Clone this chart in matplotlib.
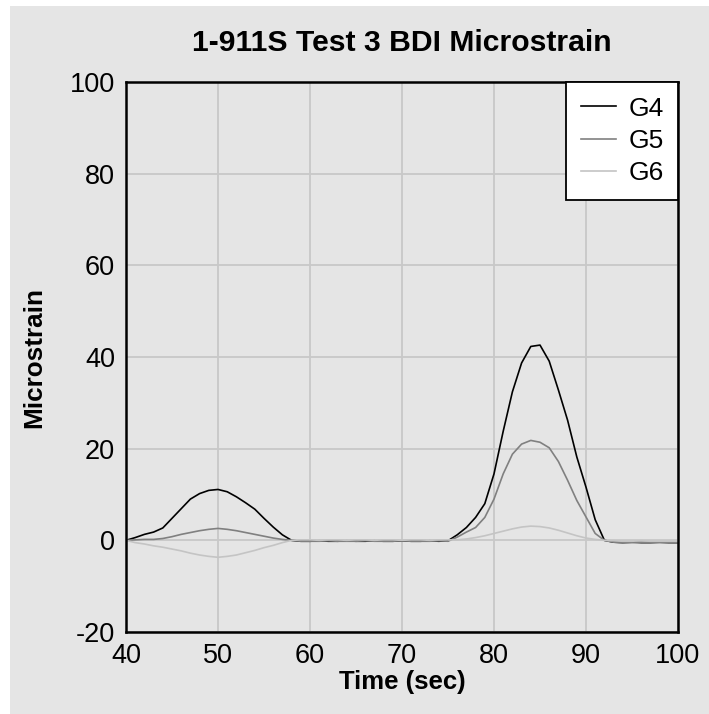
import matplotlib
matplotlib.use("Agg")
import matplotlib.pyplot as plt
from matplotlib.patches import Rectangle

plt.rcParams['font.family'] = ['Liberation Sans', 'DejaVu Sans']
plt.rcParams['axes.unicode_minus'] = False

# time in seconds, one reading per second
time_sec = list(range(40, 101))

g4 = [0.0, 0.6, 1.3, 1.8, 2.7, 4.8, 6.9, 9.0, 10.2, 10.9,
      11.1, 10.6, 9.5, 8.2, 6.8, 4.8, 2.9, 1.2, 0.0, -0.2,
      -0.2, -0.1, -0.2, -0.2, -0.1, -0.2, -0.2, -0.1, -0.2, -0.2,
      -0.1, -0.2, -0.2, -0.1, -0.2, -0.1, 1.2, 2.8, 5.0, 8.0,
      14.5, 23.8, 32.4, 38.7, 42.3, 42.6, 39.1, 32.8, 26.2, 18.2,
      11.6, 4.5, 0.0, -0.4, -0.5, -0.4, -0.5, -0.5, -0.4, -0.5,
      -0.5]

g5 = [0.0, 0.1, 0.2, 0.2, 0.4, 0.8, 1.3, 1.7, 2.1, 2.4,
      2.6, 2.4, 2.1, 1.7, 1.3, 0.9, 0.5, 0.2, 0.0, -0.2,
      -0.2, -0.2, -0.1, -0.2, -0.2, -0.2, -0.1, -0.2, -0.2, -0.2,
      -0.1, -0.2, -0.2, -0.2, -0.1, -0.2, 0.7, 1.8, 2.8, 5.0,
      9.0, 14.5, 18.8, 21.0, 21.8, 21.4, 20.2, 17.2, 13.1, 8.7,
      5.1, 1.5, 0.0, -0.4, -0.5, -0.5, -0.4, -0.5, -0.5, -0.5,
      -0.5]

g6 = [0.0, -0.5, -0.8, -1.2, -1.5, -1.9, -2.3, -2.8, -3.2, -3.5,
      -3.7, -3.5, -3.2, -2.7, -2.2, -1.6, -1.1, -0.5, 0.0, 0.1,
      0.1, 0.0, 0.1, 0.1, 0.0, 0.1, 0.1, 0.0, 0.1, 0.1,
      0.0, 0.1, 0.1, 0.0, 0.1, 0.1, 0.1, 0.3, 0.6, 1.0,
      1.5, 2.0, 2.5, 2.9, 3.1, 3.0, 2.7, 2.2, 1.6, 1.0,
      0.5, 0.2, 0.0, -0.1, -0.2, -0.2, -0.1, -0.2, -0.2, -0.2,
      -0.2]

series = [("G4", g4, "#000000"), ("G5", g5, "#808080"), ("G6", g6, "#c4c4c4")]

x_ticks = [40, 50, 60, 70, 80, 90, 100]
y_ticks = [-20, 0, 20, 40, 60, 80, 100]

bg = "#e5e5e5"

fig = plt.figure(figsize=(7.09, 7.14), dpi=100, facecolor="white")
# grey panel with thin white strip at top and left
panel = Rectangle((10 / 709, 0), 1, 1 - 6 / 714, transform=fig.transFigure,
                  facecolor=bg, edgecolor="none", zorder=-10)
fig.add_artist(panel)

ax = fig.add_axes([126 / 709, 1 - 632 / 714, 552 / 709, 550 / 714])
ax.set_facecolor(bg)

for name, vals, col in series:
    ax.plot(time_sec, vals, color=col, lw=1.2, label=name)

ax.set_xlim(40, 100)
ax.set_ylim(-20, 100)
ax.set_xticks(x_ticks)
ax.set_yticks(y_ticks)
ax.grid(True, color="#c8c8c8", lw=1.3)
ax.set_axisbelow(True)
ax.tick_params(length=0, labelsize=19.5, pad=8)
for s in ax.spines.values():
    s.set_linewidth(1.8)
    s.set_color("black")

ax.set_title("1-911S Test 3 BDI Microstrain", fontsize=21.7, fontweight="bold", pad=22)
ax.set_xlabel("Time (sec)", fontsize=18.5, fontweight="bold", labelpad=1)
ax.set_ylabel("Microstrain", fontsize=18.8, fontweight="bold", labelpad=17)

leg = ax.legend(loc="upper right", bbox_to_anchor=(1, 1), borderaxespad=0,
                fontsize=19, fancybox=False, framealpha=1, handlelength=1.35,
                handletextpad=0.45, labelspacing=0.32, borderpad=0.55)
leg.get_frame().set_edgecolor("black")
leg.get_frame().set_linewidth(1.3)
leg.get_frame().set_facecolor("white")

fig.savefig("out.png", dpi=100, facecolor=fig.get_facecolor())
